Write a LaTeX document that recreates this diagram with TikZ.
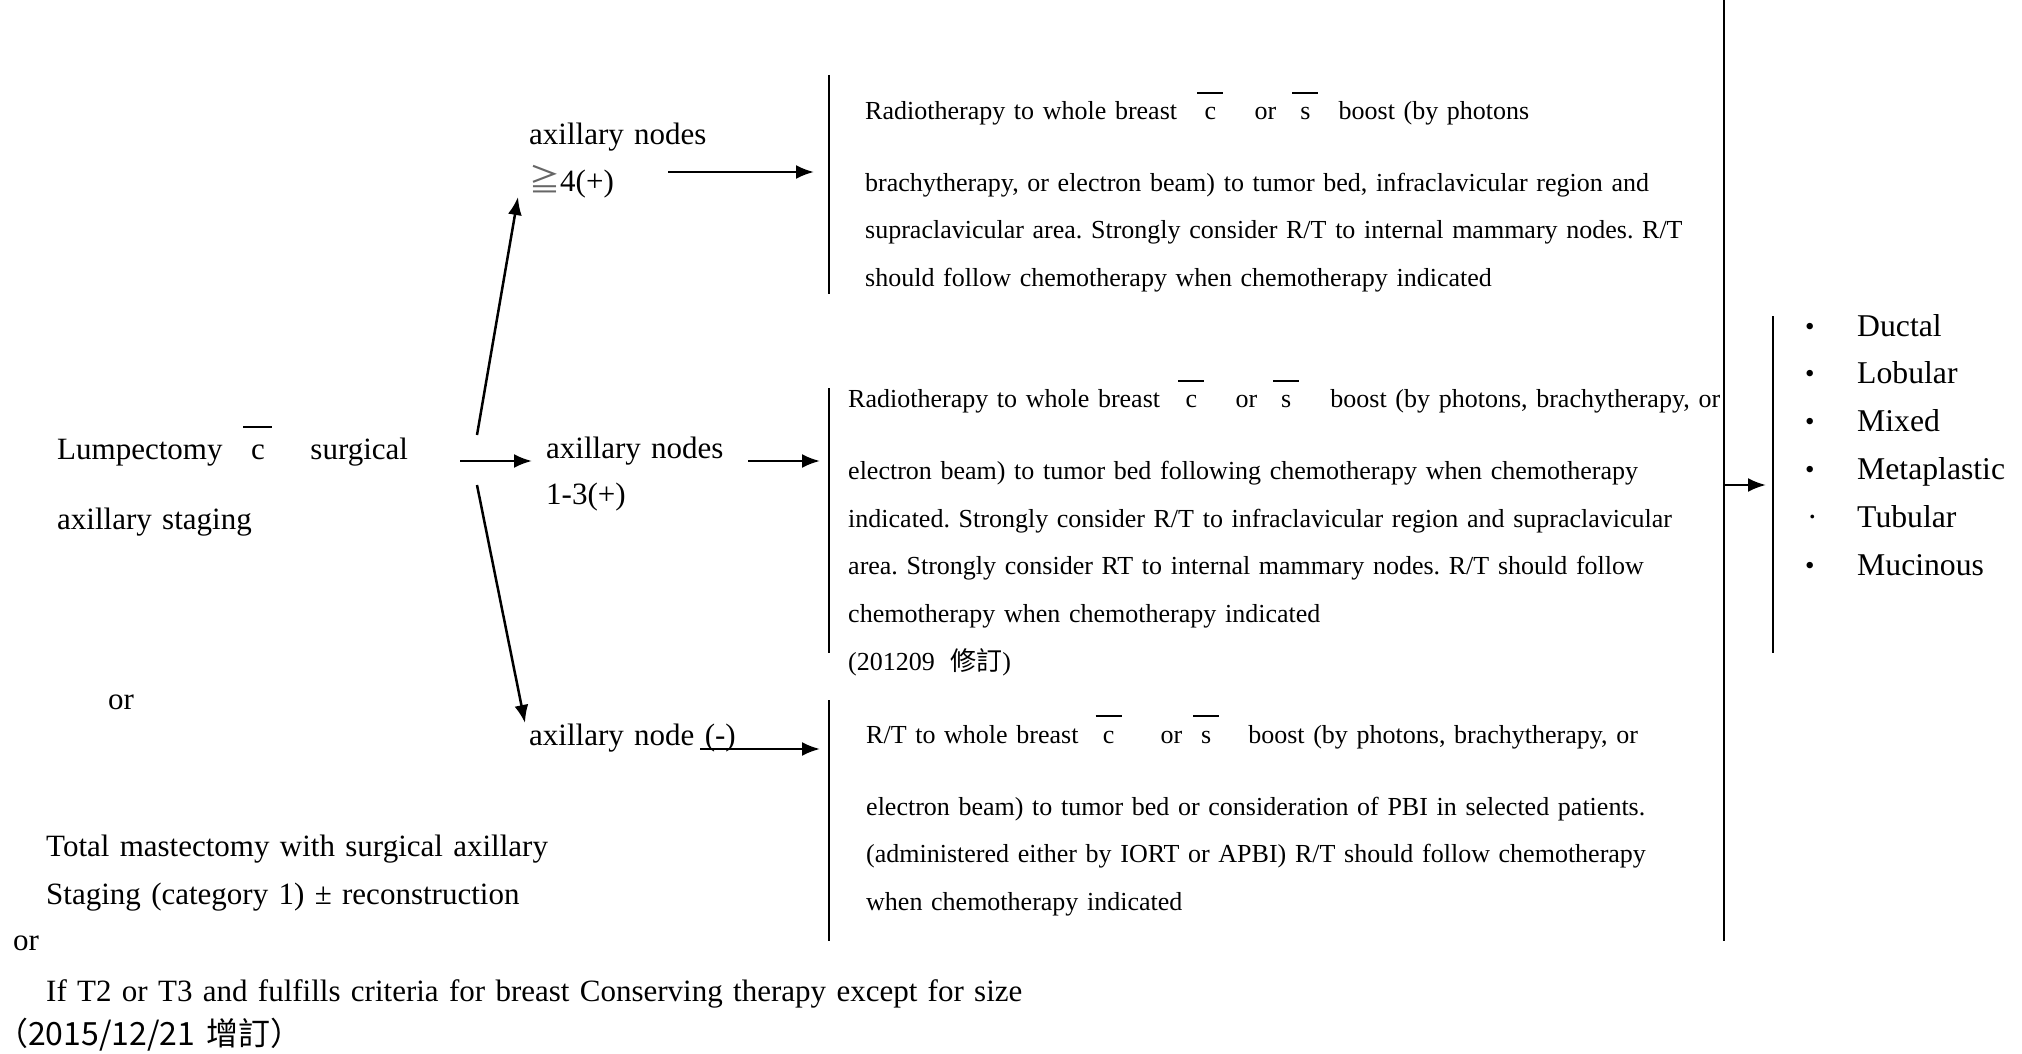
\documentclass[tikz,border=0pt]{standalone}
\usepackage{fontspec}
\setmainfont{Liberation Serif}
\newfontfamily\cjk{Noto Sans CJK TC}
\usetikzlibrary{arrows.meta}

% a letter with a detached bar above it (c-bar = with, s-bar = without)
\newcommand\obar[2][1em]{\hbox to #1{\hss\vbox{\hrule height 0.07em width #1\vskip 0.52em\hbox to #1{\hss#2\hss}}\hss}}
\newcommand\bul{{\fontsize{27pt}{27pt}\selectfont\raisebox{1pt}{•}}}

\begin{document}
\frenchspacing
\begin{tikzpicture}[x=1pt,y=-1pt,
  big/.style={inner sep=0pt, anchor=base west, text width=1200pt, align=left,
    font=\frenchspacing\fontsize{31pt}{46.5pt}\selectfont},
  small/.style={inner sep=0pt, anchor=base west, text width=1100pt, align=left,
    font=\frenchspacing\fontsize{26pt}{47.6pt}\selectfont},
  link/.style={line width=2.5pt, -{Latex[length=18pt,width=14pt]}},
  vline/.style={line width=2.2pt}]

\useasboundingbox[fill=white] (0,0) rectangle (2022,1054);

% ---- left column: surgery ----
\node[big] (lump) at (57,459)
  {Lumpectomy\hspace{21pt}\obar[29pt]{c}\hspace{38pt}surgical\\[23.5pt]axillary staging};
\node[big] (or1) at (108,709) {or};
\node[big] (total) at (46,856)
  {Total mastectomy with surgical axillary\\[1.5pt]Staging (category 1) ± reconstruction};
\node[big] (or2) at (13,950) {or};
\node[big] (ift) at (46,1001)
  {If T2 or T3 and fulfills criteria for breast Conserving therapy except for size};
\node[big, font=\fontsize{32pt}{38pt}\selectfont\cjk] (date) at (-4,1045)
  {（2015/12/21 增訂）};

% ---- nodal status ----
\node[big] (nfour) at (529,145) {axillary nodes\\{\cjk\color{black!60}≧}4(+)};
\node[big] (nthree) at (546,458) {axillary nodes\\1-3(+)};
\node[big] (nneg) at (529,745) {axillary node (-)};

% ---- radiotherapy recommendations ----
\node[small] (rtfour) at (865,120)
  {Radiotherapy to whole breast\hspace{0.78em}\obar{c}\hspace{1.2em}or\hspace{0.62em}\obar{s}\hspace{0.78em}boost (by photons\\[23.5pt]
   brachytherapy, or electron beam) to tumor bed, infraclavicular region and\\
   supraclavicular area. Strongly consider R/T to internal mammary nodes. R/T\\
   should follow chemotherapy when chemotherapy indicated};

\node[small] (rtthree) at (848,407.5)
  {Radiotherapy to whole breast\hspace{0.7em}\obar{c}\hspace{1.2em}or\hspace{0.62em}\obar{s}\hspace{1.2em}boost (by photons, brachytherapy, or\\[24.5pt]
   electron beam) to tumor bed following chemotherapy when chemotherapy\\
   indicated. Strongly consider R/T to infraclavicular region and supraclavicular\\
   area. Strongly consider RT to internal mammary nodes. R/T should follow\\
   chemotherapy when chemotherapy indicated\\
   (201209\hspace{0.6em}{\cjk 修訂})};

\node[small] (rtneg) at (866,743)
  {R/T to whole breast\hspace{0.66em}\obar{c}\hspace{1.5em}or\hspace{0.42em}\obar{s}\hspace{1.12em}boost (by photons, brachytherapy, or\\[24.5pt]
   electron beam) to tumor bed or consideration of PBI in selected patients.\\
   (administered either by IORT or APBI) R/T should follow chemotherapy\\
   when chemotherapy indicated};

% ---- histology list ----
\node[big, font=\fontsize{31.7pt}{47.8pt}\selectfont] (histo) at (1805,336)
  {\makebox[52pt][l]{\bul}Ductal\\
   \makebox[52pt][l]{\bul}Lobular\\
   \makebox[52pt][l]{\bul}Mixed\\
   \makebox[52pt][l]{\bul}Metaplastic\\
   \makebox[52pt][l]{\hspace{2pt}·}Tubular\\
   \makebox[52pt][l]{\bul}Mucinous};

% ---- bracket lines ----
\coordinate (b1t) at (829,75);   \coordinate (b1b) at (829,294);
\coordinate (b2t) at (829,388);  \coordinate (b2b) at (829,653);
\coordinate (b3t) at (829,700);  \coordinate (b3b) at (829,941);
\coordinate (bigt) at (1724,0);  \coordinate (bigb) at (1724,941);
\coordinate (ht) at (1773,316);  \coordinate (hb) at (1773,653);
\draw[vline] (b1t) -- (b1b);
\draw[vline] (b2t) -- (b2b);
\draw[vline] (b3t) -- (b3b);
\draw[vline] (bigt) -- (bigb);
\draw[vline] (ht) -- (hb);

% ---- connectors ----
\coordinate (upS) at (477,435);   \coordinate (upE) at (518,197);
\coordinate (midS) at (460,461);  \coordinate (midE) at (532,461);
\coordinate (dnS) at (477,485);   \coordinate (dnE) at (525,723);
\coordinate (t1S) at (668,172);   \coordinate (t1E) at (814,172);
\coordinate (t2S) at (748,461);   \coordinate (t2E) at (820,461);
\coordinate (t3S) at (700,749);   \coordinate (t3E) at (820,749);
\coordinate (outS) at (1724,485); \coordinate (outE) at (1766,485);

\draw[link] (upS) -- (upE);
\draw[link] (midS) -- (midE);
\draw[link] (dnS) -- (dnE);
\draw[link] (t1S) -- (t1E);
\draw[link] (t2S) -- (t2E);
\draw[link] (t3S) -- (t3E);
\draw[link] (outS) -- (outE);
\end{tikzpicture}
\end{document}
